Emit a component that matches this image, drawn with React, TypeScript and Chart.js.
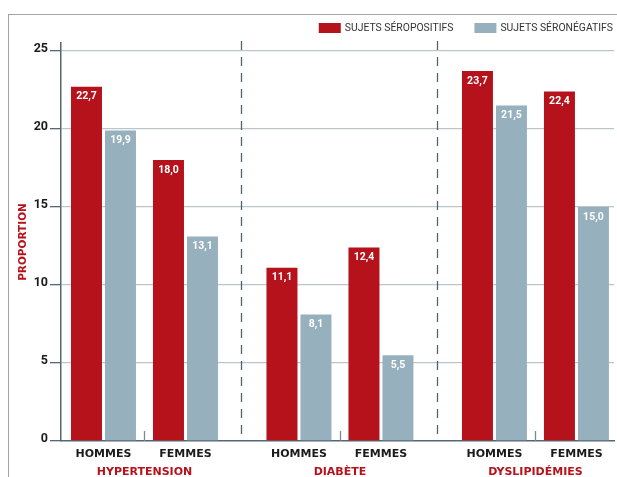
import React, { useEffect, useRef } from 'react';
import { Chart, registerables } from 'chart.js';

Chart.register(...registerables);

// ---- data ----
const GROUPS = ['HYPERTENSION', 'DIABÈTE', 'DYSLIPIDÉMIES'];
const SEXES = ['HOMMES', 'FEMMES'];
const SERIES = ['SUJETS SÉROPOSITIFS', 'SUJETS SÉRONÉGATIFS'];
const SEROPOSITIFS = [22.7, 18.0, 11.1, 12.4, 23.7, 22.4];
const SERONEGATIFS = [19.9, 13.1, 8.1, 5.5, 21.5, 15.0];
const Y_TICKS = [0, 5, 10, 15, 20, 25];
const Y_TITLE = 'PROPORTION';

// ---- style / layout ----
const RED = '#b5121b';
const BLUE = '#97b0be';
const AXIS = '#566773';
const GRID = '#bcc5ca';
const DASH = '#4f6373';
const FONT = 'Roboto, "Noto Sans", sans-serif';
const LABEL_FONT = '"DejaVu Sans", Roboto, sans-serif';

const GROUP_STEP = 2.384;
const X_MIN = -0.518;
const X_MAX = 6.226;
const Y_MAX = 25.5;

const NS = SEXES.length;
const catX = (i: number) => Math.floor(i / NS) * GROUP_STEP + (i % NS);
const groupMid = (g: number) => g * GROUP_STEP + (NS - 1) / 2;
const groupSep = (g: number) => g * GROUP_STEP + (NS - 1) + (GROUP_STEP - (NS - 1)) / 2;

const fmt = (v: number) => v.toFixed(1).replace('.', ',');

const decor = {
  id: 'decor',
  beforeDatasetsDraw(chart: any) {
    const { ctx, chartArea, scales } = chart;
    const x = scales.x;
    ctx.save();
    ctx.strokeStyle = DASH;
    ctx.lineWidth = 1.3;
    ctx.setLineDash([9, 7]);
    for (let g = 0; g < GROUPS.length - 1; g++) {
      const px = Math.round(x.getPixelForValue(groupSep(g))) - 0.5;
      ctx.beginPath();
      ctx.moveTo(px, chartArea.top - 2);
      ctx.lineTo(px, chartArea.bottom);
      ctx.stroke();
    }
    ctx.setLineDash([]);
    ctx.strokeStyle = '#7b8a94';
    for (let g = 0; g < GROUPS.length; g++) {
      const px = Math.round(x.getPixelForValue(groupMid(g))) + 0.5;
      ctx.beginPath();
      ctx.moveTo(px, chartArea.bottom);
      ctx.lineTo(px, chartArea.bottom - 10);
      ctx.stroke();
    }
    ctx.restore();
  },
  afterDatasetsDraw(chart: any) {
    const { ctx } = chart;
    ctx.save();
    ctx.fillStyle = '#ffffff';
    ctx.font = `bold 10.5px ${FONT}`;
    ctx.textAlign = 'center';
    ctx.textBaseline = 'middle';
    chart.data.datasets.forEach((ds: any, di: number) => {
      const meta = chart.getDatasetMeta(di);
      meta.data.forEach((bar: any, i: number) => {
        const v = ds.data[i].y;
        ctx.fillText(fmt(v), bar.x, bar.y + 10);
      });
    });
    ctx.restore();
  },
  afterDraw(chart: any) {
    const { ctx } = chart;
    const ds = chart.data.datasets;
    ctx.save();
    ctx.font = `10.4px ${FONT}`;
    ctx.textBaseline = 'middle';
    ctx.textAlign = 'left';
    let right = 604;
    const boxW = 22, boxH = 10, gapText = 4, gapItem = 21, top = 8;
    for (let k = ds.length - 1; k >= 0; k--) {
      const w = ctx.measureText(ds[k].label).width;
      const tx = right - w;
      const bx = tx - gapText - boxW;
      ctx.fillStyle = ds[k].backgroundColor;
      ctx.fillRect(bx, top, boxW, boxH);
      ctx.fillStyle = '#333333';
      ctx.fillText(ds[k].label, tx, top + boxH / 2 + 0.5);
      right = bx - gapItem;
    }
    ctx.restore();
  },
};

export default function App() {
  const ref = useRef<HTMLCanvasElement>(null);

  useEffect(() => {
    if (!ref.current) return;
    const chart = new Chart(ref.current, {
      type: 'bar',
      data: {
        datasets: [
          {
            label: SERIES[0],
            data: SEROPOSITIFS.map((v, i) => ({ x: catX(i), y: v })),
            backgroundColor: RED,
          },
          {
            label: SERIES[1],
            data: SERONEGATIFS.map((v, i) => ({ x: catX(i), y: v })),
            backgroundColor: BLUE,
          },
        ],
      } as any,
      options: {
        animation: false,
        responsive: false,
        devicePixelRatio: 1,
        datasets: { bar: { categoryPercentage: 0.829, barPercentage: 0.912 } } as any,
        layout: { padding: { top: 28, right: 3, left: 0, bottom: 0 } },
        plugins: {
          legend: { display: false },
          tooltip: { enabled: false },
        },
        scales: {
          x: {
            type: 'linear',
            position: 'bottom',
            weight: 0,
            offset: false,
            bounds: 'data',
            min: X_MIN,
            max: X_MAX,
            afterBuildTicks: (s: any) => {
              s.ticks = SEROPOSITIFS.map((_, i) => ({ value: catX(i) }));
            },
            afterFit: (s: any) => {
              s.height = 18;
            },
            ticks: {
              autoSkip: false,
              maxRotation: 0,
              padding: 6.5,
              color: '#1a1a1a',
              font: { family: LABEL_FONT, size: 11, weight: 'bold', lineHeight: 1.2 },
              callback: (_v: any, i: number) => SEXES[i % NS],
            },
            grid: { display: false, drawTicks: false, offset: false },
            border: { display: true, color: AXIS, width: 1.5 },
          },
          xGroup: {
            type: 'linear',
            axis: 'x',
            position: 'bottom',
            weight: 1,
            offset: false,
            bounds: 'data',
            min: X_MIN,
            max: X_MAX,
            afterBuildTicks: (s: any) => {
              s.ticks = GROUPS.map((_, g) => ({ value: groupMid(g) }));
            },
            afterFit: (s: any) => {
              s.height = 18;
            },
            ticks: {
              autoSkip: false,
              maxRotation: 0,
              padding: 6.5,
              color: RED,
              font: { family: LABEL_FONT, size: 11, weight: 'bold', lineHeight: 1.2 },
              callback: (_v: any, i: number) => GROUPS[i],
            },
            grid: { display: false, drawTicks: false, offset: false },
            border: { display: false },
          },
          y: {
            type: 'linear',
            min: 0,
            max: Y_MAX,
            afterBuildTicks: (s: any) => {
              s.ticks = Y_TICKS.map((v) => ({ value: v }));
            },
            afterFit: (s: any) => {
              s.width = 52;
            },
            ticks: {
              padding: 2,
              labelOffset: -2,
              color: '#1a1a1a',
              font: { family: FONT, size: 12.5, weight: 'bold' },
              callback: (v: any) => String(v),
            },
            grid: {
              color: (c: any) => (c.tick && c.tick.value === 0 ? 'rgba(0,0,0,0)' : GRID),
              lineWidth: 1.3,
              tickColor: AXIS,
              tickLength: 11,
              tickWidth: 1.3,
            },
            border: { display: true, color: AXIS, width: 1.5 },
            title: {
              display: true,
              text: Y_TITLE,
              color: RED,
              font: { family: LABEL_FONT, size: 10.5, weight: 'bold', lineHeight: 1.2 },
              padding: { top: 7.5, bottom: 0 },
            },
          },
        } as any,
      },
      plugins: [decor],
    });
    return () => chart.destroy();
  }, []);

  return (
    <div
      style={{
        position: 'absolute',
        left: 8,
        top: 14,
        width: 609,
        height: 463,
        boxSizing: 'border-box',
        borderTop: '1px solid #a3a3a3',
        borderLeft: '1px solid #a3a3a3',
        overflow: 'hidden',
      }}
    >
      <canvas ref={ref} width={608} height={462} style={{ display: 'block', width: 608, height: 462 }} />
    </div>
  );
}
